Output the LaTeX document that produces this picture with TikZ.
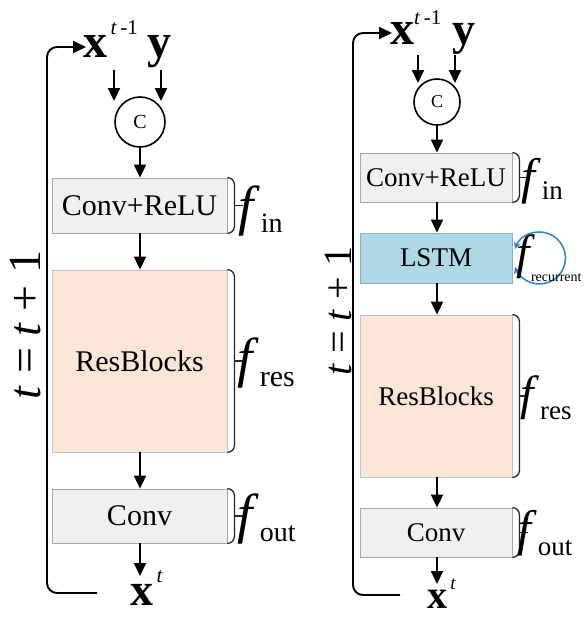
\documentclass[tikz,border=0pt]{standalone}
\usepackage{fontspec}
\setmainfont{Liberation Serif}
\usetikzlibrary{arrows.meta,calc}
\definecolor{boxgray}{HTML}{F0F0F0}
\definecolor{boxline}{HTML}{A8A8A8}
\definecolor{peach}{HTML}{FBE5D6}
\definecolor{lstmblue}{HTML}{ADD8E6}
\definecolor{lstmline}{HTML}{8FAFBD}
\definecolor{loopblue}{HTML}{2F80D6}
\newcommand\fs[1]{\fontsize{#1}{#1}\selectfont}
\newcommand\sidebrace[1]{%
  \draw[brc] (#1.north east) to[out=0,in=90] ++(7,7) -- ($(#1.south east)+(7,-7)$) to[out=-90,in=0] (#1.south east);
  \draw[brc] ($(#1.east)+(7,0)$) -- ++(9,0);}
\begin{document}
\begin{tikzpicture}[x=1pt,y=-1pt,
  tip/.style={-{Triangle[width=12pt,length=13pt]}},
  arr/.style={line width=1.9pt,tip},
  fb/.style={line width=1.9pt,rounded corners=10pt},
  brc/.style={line width=1.3pt,black!85},
  graybox/.style={draw=boxline,fill=boxgray,line width=0.8pt,inner sep=0},
  resbox/.style={draw=boxline!70,fill=peach,line width=0.8pt,inner sep=0},
  lstmbox/.style={draw=lstmline,fill=lstmblue,line width=0.8pt,inner sep=0},
  cnode/.style={circle,draw,line width=1.6pt,inner sep=0},
  lbl/.style={inner sep=0,anchor=base west},
  loopc/.style={draw=loopblue,line width=1.5pt,{Stealth[length=7pt,width=7pt]}-{Stealth[length=7pt,width=7pt]}}]
\useasboundingbox (0,0) rectangle (586,618);
% ---------------- left panel ----------------
\node[lbl] (xp1) at (83,58) {\fs{48}\bfseries x\raisebox{23pt}{\mdseries\fs{21}\,\textit{t}\,-1}};
\node[lbl] (y1) at (147,58) {\fs{48}\bfseries y};
\coordinate (a1s) at (114,70); \coordinate (a1e) at (114,101);
\coordinate (b1s) at (161,70); \coordinate (b1e) at (161,101);
\draw[arr] (a1s) -- (a1e);
\draw[arr] (b1s) -- (b1e);
\node[cnode,minimum size=50pt] (c1) at (140,122) {\fs{20}C};
\node[graybox,minimum width=175pt,minimum height=55pt] (in1) at (139.5,205.5) {\fs{30}Conv+ReLU};
\node[resbox,minimum width=175pt,minimum height=182pt] (res1) at (139.5,361) {\fs{30}ResBlocks};
\node[graybox,minimum width=175pt,minimum height=54pt] (out1) at (139.5,516) {\fs{30}Conv};
\node[lbl] (xt1) at (130,605) {\fs{46}\bfseries x\raisebox{23pt}{\mdseries\fs{21}\,\textit{t}}};
\coordinate (xt1tip) at (140,576);
\draw[arr] (c1.south) -- (c1.south |- in1.north);
\draw[arr] (in1.south -| c1) -- (c1 |- res1.north);
\draw[arr] (res1.south -| c1) -- (c1 |- out1.north);
\draw[arr] (out1.south -| c1) -- (xt1tip);
\coordinate (fb1s) at (97,593); \coordinate (fb1e) at (86,47);
\draw[fb,tip] (fb1s) -- (47,593) -- (47,47) -- (fb1e);
\node[rotate=90,inner sep=0] (tt1) at (26,325) {\fs{46}\textit{t} = \textit{t} + 1};
\sidebrace{in1}\sidebrace{res1}\sidebrace{out1}
\node[lbl] (fin1) at (238,224) {\fs{55}\textit{f}\kern1pt\raisebox{-8pt}{\fs{28}in}};
\node[lbl] (fres1) at (237,376) {\fs{55}\textit{f}\kern1pt\raisebox{-10pt}{\fs{30}res}};
\node[lbl] (fout1) at (237,532) {\fs{55}\textit{f}\kern1pt\raisebox{-9pt}{\fs{28}out}};
% ---------------- right panel ----------------
\node[lbl] (xp2) at (390,45) {\fs{48}\bfseries x\raisebox{20pt}{\mdseries\fs{21}\textit{t}\,-1}};
\node[lbl] (y2) at (452,45) {\fs{46}\bfseries y};
\coordinate (a2s) at (418,55); \coordinate (a2e) at (418,83);
\coordinate (b2s) at (455,55); \coordinate (b2e) at (455,83);
\draw[arr] (a2s) -- (a2e);
\draw[arr] (b2s) -- (b2e);
\node[cnode,minimum size=46pt] (c2) at (437,102) {\fs{18}C};
\node[graybox,minimum width=152pt,minimum height=49pt] (in2) at (436,177.5) {\fs{27}Conv+ReLU};
\node[lstmbox,minimum width=152pt,minimum height=50pt] (lstm) at (436,258) {\fs{27}LSTM};
\node[resbox,minimum width=152pt,minimum height=162pt] (res2) at (436,396) {\fs{27}ResBlocks};
\node[graybox,minimum width=152pt,minimum height=49pt] (out2) at (436,532.5) {\fs{27}Conv};
\node[lbl] (xt2) at (427,608) {\fs{40}\bfseries x\raisebox{19pt}{\mdseries\fs{19}\,\textit{t}}};
\coordinate (xt2tip) at (437,584);
\draw[arr] (c2.south) -- (c2.south |- in2.north);
\draw[arr] (in2.south -| c2) -- (c2 |- lstm.north);
\draw[arr] (lstm.south -| c2) -- (c2 |- res2.north);
\draw[arr] (res2.south -| c2) -- (c2 |- out2.north);
\draw[arr] (out2.south -| c2) -- (xt2tip);
\coordinate (fb2s) at (400,595); \coordinate (fb2e) at (392,33);
\draw[fb,tip] (fb2s) -- (353,595) -- (353,33) -- (fb2e);
\node[rotate=90,inner sep=0] (tt2) at (338,311) {\fs{40}\textit{t} = \textit{t} + 1};
\sidebrace{in2}\sidebrace{res2}\sidebrace{out2}
\node[lbl] (fin2) at (521,193) {\fs{50}\textit{f}\kern1pt\raisebox{-6pt}{\fs{27}in}};
\node[lbl] (fres2) at (520,409) {\fs{48}\textit{f}\kern1pt\raisebox{-10pt}{\fs{27}res}};
\node[lbl] (fout2) at (517,545) {\fs{50}\textit{f}\kern1pt\raisebox{-10pt}{\fs{27}out}};
\draw[loopc] ($(lstm.east)+(2.6,-8.9)$) arc[start angle=200,end angle=520,radius=26];
\node[lbl] (frec) at (516,268) {\fs{48}\textit{f}\kern-4pt\raisebox{-13pt}{\fs{14}recurrent}};
\end{tikzpicture}
\end{document}
